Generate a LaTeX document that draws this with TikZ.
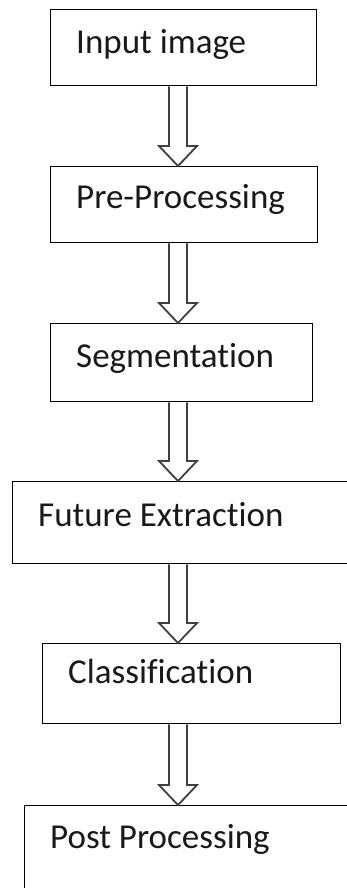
\documentclass[tikz,border=0pt]{standalone}
\usepackage{fontspec}
\setmainfont{Carlito}[Ligatures=NoCommon]
\usetikzlibrary{calc}
\newcommand\blockarrow[2]{%
  \draw[blk] ($(#1.south -| ax)+(-9,0)$) -- ($(#2.north -| ax)+(-9,-20)$)
    -- ($(#2.north -| ax)+(-19,-20)$) -- (#2.north -| ax)
    -- ($(#2.north -| ax)+(19,-20)$) -- ($(#2.north -| ax)+(9,-20)$)
    -- ($(#1.south -| ax)+(9,0)$);}
\begin{document}
\begin{tikzpicture}[x=1pt,y=-1pt,
  box/.style={draw=black,line width=1.4pt,inner sep=0pt,anchor=north west},
  lbl/.style={anchor=base west,inner sep=0pt,font=\fontsize{35}{40}\selectfont,text=black!90},
  blk/.style={draw=black!75,line width=1.8pt,line join=miter}]
\useasboundingbox (0,0) rectangle (347,888);
\clip (0,0) rectangle (347,888);
\fill[white] (0,0) rectangle (347,888);
\coordinate (ax) at (178,0);
\node[box,minimum width=266pt,minimum height=76pt] (b1) at (50,9) {};
\node[box,minimum width=267pt,minimum height=76pt] (b2) at (50,166) {};
\node[box,minimum width=262pt,minimum height=78pt] (b3) at (50,323) {};
\node[box,minimum width=348pt,minimum height=82pt] (b4) at (12,481) {};
\node[box,minimum width=298pt,minimum height=80pt] (b5) at (42,643) {};
\node[box,minimum width=346pt,minimum height=95pt] (b6) at (24,805) {};
\node[lbl] (t1) at (76,54) {Input image};
\node[lbl] (t2) at (76,208) {Pre-Processing};
\node[lbl] (t3) at (76,367) {Segmentation};
\node[lbl] (t4) at (38,526) {Future Extraction};
\node[lbl] (t5) at (68,683) {Classification};
\node[lbl] (t6) at (50,848) {Post Processing};
\blockarrow{b1}{b2}
\blockarrow{b2}{b3}
\blockarrow{b3}{b4}
\blockarrow{b4}{b5}
\blockarrow{b5}{b6}
\end{tikzpicture}
\end{document}
